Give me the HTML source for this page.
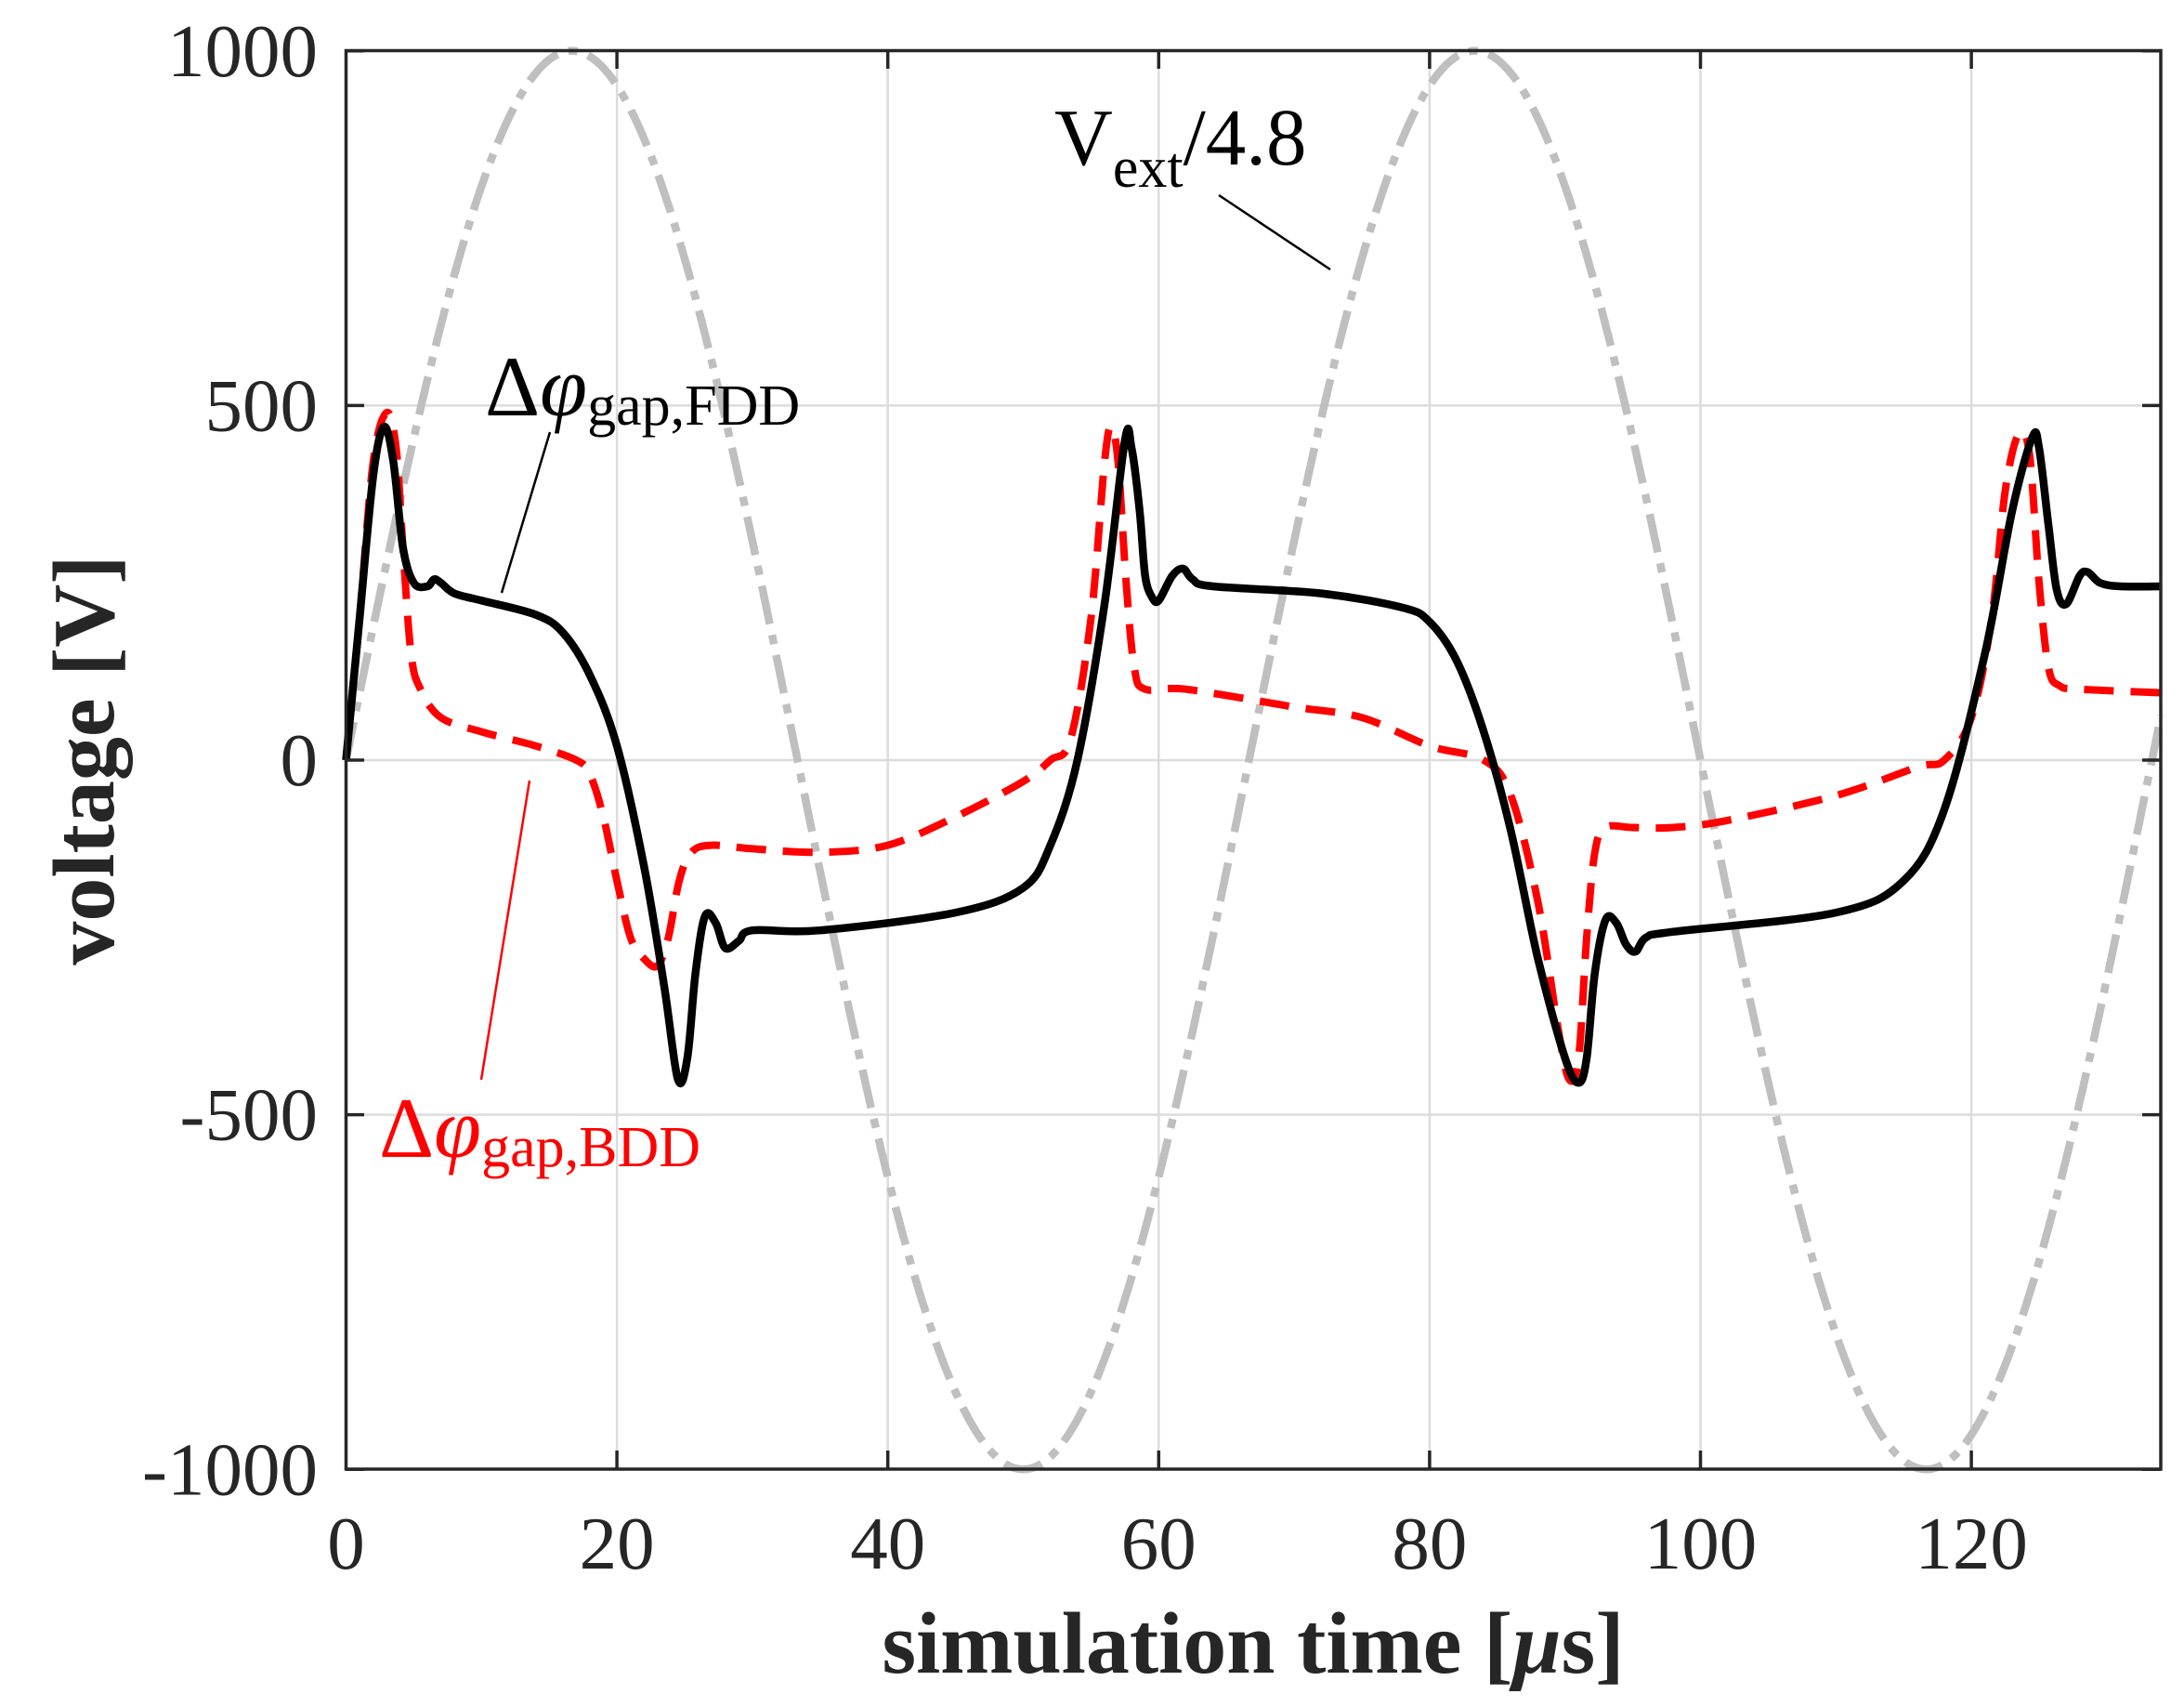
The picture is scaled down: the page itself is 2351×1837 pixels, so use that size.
<!DOCTYPE html>
<html><head><meta charset="utf-8"><style>
html,body{margin:0;padding:0;background:#fff;}
svg{display:block;}
text{font-family:"Liberation Serif",serif;}
</style></head><body>
<svg id="s" width="2351" height="1837" xmlns="http://www.w3.org/2000/svg">
<rect width="2351" height="1837" fill="#fff"/>
<g id="grid" stroke="#dcdcdc" stroke-width="2.5"></g>
<path id="vext" fill="none" stroke="#bfbfbf" stroke-width="8.5" stroke-dasharray="42,12,10,12"/>
<path id="bdd" fill="none" stroke="#ff0000" stroke-width="8" stroke-dasharray="32,18"/>
<path id="fdd" fill="none" stroke="#000" stroke-width="8.5" stroke-linejoin="round"/>
<rect x="372.5" y="54.5" width="1953.5" height="1526.5" fill="none" stroke="#262626" stroke-width="3.5"/>
<g id="ticks" stroke="#262626" stroke-width="3.5"></g>
<g id="lbl" font-size="81" fill="#262626"></g>
<text x="1349" y="1800" font-size="94" font-weight="bold" text-anchor="middle" fill="#262626">simulation time [<tspan font-style="italic">μ</tspan>s]</text>
<text transform="translate(122,818) rotate(-90)" font-size="94" font-weight="bold" text-anchor="middle" fill="#262626">voltage [V]</text>
<text x="1135" y="177" font-size="87" fill="#000">V<tspan font-size="62" dy="24">ext</tspan><tspan dy="-24">/4.8</tspan></text>
<line x1="1312" y1="210" x2="1432" y2="290" stroke="#000" stroke-width="2.5"/>
<text x="522" y="447" font-size="92" fill="#000">Δ<tspan font-style="italic">φ</tspan><tspan font-size="62" dy="10">gap,FDD</tspan></text>
<line x1="592" y1="465" x2="540" y2="638" stroke="#000" stroke-width="2.5"/>
<text x="408" y="1245" font-size="92" fill="#ff0000">Δ<tspan font-style="italic">φ</tspan><tspan font-size="62" dy="10">gap,BDD</tspan></text>
<line x1="570" y1="840" x2="518" y2="1162" stroke="#ff0000" stroke-width="2.5"/>
</svg>
<script>
var X=function(t){return 372.5+t*14.58;};
var Y=function(v){return 818-v*0.76325;};
var ns="http://www.w3.org/2000/svg";
function el(p,n,a,txt){var e=document.createElementNS(ns,n);for(var k in a)e.setAttribute(k,a[k]);if(txt!==undefined)e.textContent=txt;document.getElementById(p).appendChild(e);}
for(var t=20;t<=120;t+=20){el("grid","line",{x1:X(t),y1:54.5,x2:X(t),y2:1581});
 el("ticks","line",{x1:X(t),y1:1581,x2:X(t),y2:1561});el("ticks","line",{x1:X(t),y1:54.5,x2:X(t),y2:74});}
for(var t=0;t<=120;t+=20)el("lbl","text",{x:X(t),y:1688,"text-anchor":"middle"},String(t));
[-500,0,500].forEach(function(v){el("grid","line",{x1:372.5,y1:Y(v),x2:2326,y2:Y(v)});});
[-1000,-500,0,500,1000].forEach(function(v){el("ticks","line",{x1:372.5,y1:Y(v),x2:392,y2:Y(v)});el("ticks","line",{x1:2326,y1:Y(v),x2:2306,y2:Y(v)});
 el("lbl","text",{x:342,y:Y(v)+27,"text-anchor":"end"},String(v));});
var d="";for(var i=0;i<=1340;i++){var t=i/10;d+=(i?"L":"M")+X(t).toFixed(1)+","+Y(1000*Math.sin(2*Math.PI*t/66.667)).toFixed(1);}
document.getElementById("vext").setAttribute("d",d);
function P(a){var p=[];for(var i=0;i<a.length;i+=2)p.push([X(a[i]),Y(a[i+1])]);
 var s="M"+p[0][0].toFixed(1)+","+p[0][1].toFixed(1);
 for(var i=0;i<p.length-1;i++){var p0=p[Math.max(0,i-1)],p1=p[i],p2=p[i+1],p3=p[Math.min(p.length-1,i+2)];
  var c1=[p1[0]+(p2[0]-p0[0])/6,p1[1]+(p2[1]-p0[1])/6],c2=[p2[0]-(p3[0]-p1[0])/6,p2[1]-(p3[1]-p1[1])/6];
  s+="C"+c1[0].toFixed(1)+","+c1[1].toFixed(1)+" "+c2[0].toFixed(1)+","+c2[1].toFixed(1)+" "+p2[0].toFixed(1)+","+p2[1].toFixed(1);}
 return s;}
var fdd=[0,0,1,200,2,400,2.8,470,3.5,420,4.2,300,5,250,6,245,6.5,255,7,250,8,235,10,225,14,205,16,180,18,120,20,20,22,-150,23.5,-320,24.5,-450,25.2,-420,25.8,-300,26.5,-220,27.3,-230,28,-265,29,-255,30,-240,35,-240,45,-215,50,-180,52,-120,54,0,56,220,57.5,450,58,440,58.6,350,59,260,59.5,230,60,225,61,260,61.8,270,62.5,255,64,245,72,235,78,215,80,195,82,140,84,40,86,-100,88,-280,90,-420,91,-455,91.6,-420,92.2,-300,93,-225,93.8,-230,94.5,-260,95.2,-270,96,-250,98,-242,110,-215,115,-170,118,-70,121,150,123,350,124.5,455,125,440,125.7,330,126.3,240,127,220,128,260,128.6,265,129.5,250,131,245,134,245];
var bdd=[0,0,1,200,2,420,3,490,3.7,440,4.2,300,4.8,150,5.5,100,7,60,10,40,14,20,17,0,18,-20,19,-80,20,-170,21,-250,22,-280,23,-290,23.8,-250,24.6,-170,25.5,-130,27,-120,30,-125,35,-130,40,-120,45,-80,50,-30,52,0,53.5,30,55,200,56,420,56.5,470,57,420,57.6,250,58.2,130,59,100,62,100,70,75,75,60,80,20,84,0,86,-50,88,-200,89.5,-380,90.3,-450,91,-420,91.6,-250,92.2,-130,93,-95,95,-95,98,-95,102,-85,110,-50,116,-10,118,0,120,60,121.5,200,122.5,380,123.5,460,124.3,430,125,250,125.7,130,126.5,105,128,100,134,95];
document.getElementById("fdd").setAttribute("d",P(fdd));
document.getElementById("bdd").setAttribute("d",P(bdd));
</script>
</body></html>
